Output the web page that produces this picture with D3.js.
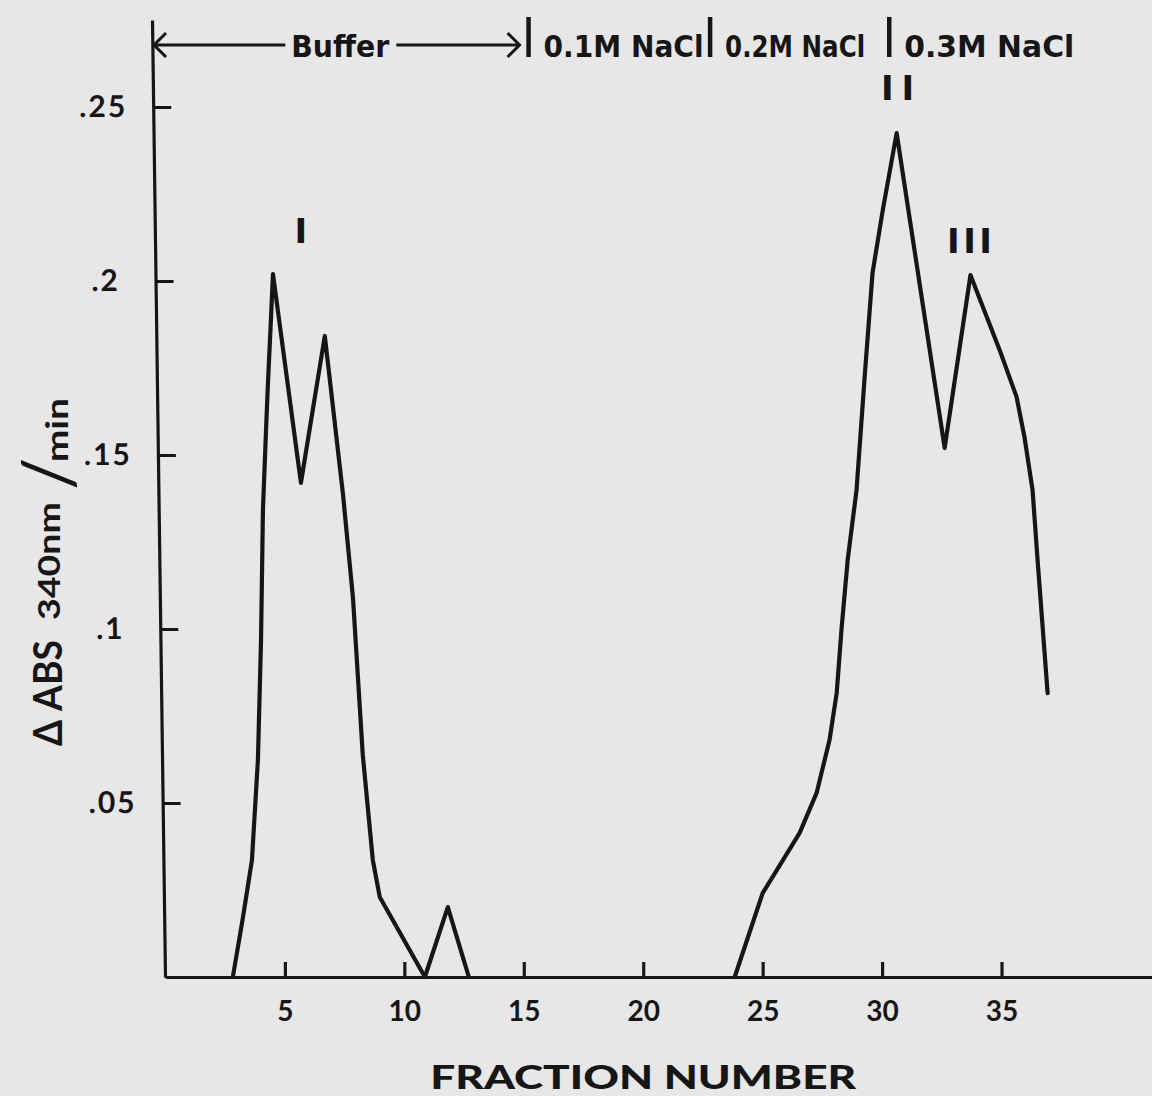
<!DOCTYPE html>
<html lang="en">
<head>
<meta charset="UTF-8">
<title>Delta ABS 340nm/min by fraction number</title>
<script src="https://cdn.jsdelivr.net/npm/d3@7"></script>
<style>
  html, body { margin: 0; padding: 0; background: #e7e7e7; }
  svg { display: block; }
</style>
</head>
<body>
<svg id="chart" width="1152" height="1096"></svg>
<script>
// peak I, eluted with buffer
const fracA = [2.82, 3.24, 3.62, 3.87, 4.00, 4.08, 4.21, 4.29, 4.42, 4.50, 5.67, 6.67, 7.43, 7.85, 8.26, 8.68, 8.97, 10.86, 11.82, 12.70];
const absA  = [0, 0.0170, 0.0336, 0.0624, 0.0968, 0.1342, 0.1572, 0.1707, 0.1897, 0.2020, 0.1420, 0.1842, 0.1388, 0.1089, 0.0638, 0.0336, 0.0230, 0, 0.0201, 0];

// peaks II and III, eluted with NaCl steps
const fracB = [23.83, 25.0, 26.55, 27.26, 27.80, 28.10, 28.31, 28.56, 28.93, 29.27, 29.60, 30.03, 30.61, 32.62, 33.70, 34.92, 35.63, 35.96, 36.30, 36.51, 36.93];
const absB  = [0, 0.0241, 0.0414, 0.0529, 0.0681, 0.0816, 0.1006, 0.1198, 0.1399, 0.1724, 0.2023, 0.2204, 0.2425, 0.1520, 0.2017, 0.1802, 0.1667, 0.1552, 0.1399, 0.1198, 0.0816];

const xTicks = [5, 10, 15, 20, 25, 30, 35];
const yTicks = [0.05, 0.1, 0.15, 0.2, 0.25];
const yTickLabels = [".05", ".1", ".15", ".2", ".25"];

const bufferLabel = "Buffer";
const eluentBreaks = [15.2, 22.8, 30.3];
const eluentLabels = ["0.1M NaCl", "0.2M NaCl", "0.3M NaCl"];

const peakNames = ["I", "II", "III"];
const peakFrac = [5.67, 30.65, 33.66];
const peakAbs = [0.211, 0.252, 0.208];

const width = 1152, height = 1096;
const ink = "#161616";
const tickFont = "Lato, 'Open Sans', sans-serif";
const headFont = "'DejaVu Sans Condensed', 'DejaVu Sans', sans-serif";

const svg = d3.select("#chart");
svg.append("rect").attr("width", width).attr("height", height).attr("fill", "#e7e7e7");

const x = d3.scaleLinear().domain([-0.02, 41.3]).range([165, 1152]);
const y = d3.scaleLinear().domain([0, 0.275]).range([977, 20]);

// the y axis of the original leans a little (scanned drawing)
const lean = 13;
const lean_deg = Math.atan(lean / (y.range()[0] - y.range()[1])) * 180 / Math.PI;
const axisTopX = x.range()[0] - lean;

// axes
const gx = svg.append("g")
    .attr("transform", `translate(0,${y(0)})`)
    .call(d3.axisBottom(x).tickValues(xTicks).tickSize(-15).tickSizeOuter(0).tickPadding(24));

const gy = svg.append("g")
    .attr("transform", `translate(${x.range()[0]},${y(0)}) skewX(${lean_deg}) translate(0,${-y(0)})`)
    .call(d3.axisLeft(y).tickValues(yTicks).tickFormat((d, i) => yTickLabels[i])
        .tickSize(-18).tickSizeOuter(0));

[gx, gy].forEach(g => {
    g.select(".domain").attr("stroke", ink).attr("stroke-width", 3.2);
    g.selectAll(".tick line").attr("stroke", ink).attr("stroke-width", 3.2);
    g.selectAll(".tick text")
        .attr("fill", ink)
        .style("font-family", tickFont)
        .style("font-size", "28px")
        .style("font-weight", "bold");
});
gy.selectAll(".tick text")
    .attr("x", -50)
    .attr("text-anchor", "middle")
    .style("font-size", "30px")
    .style("letter-spacing", "2px");

// data curves
const line = d3.line().x(d => x(d[0])).y(d => y(d[1]));
[d3.zip(fracA, absA), d3.zip(fracB, absB)].forEach(pts => {
    svg.append("path")
        .datum(pts)
        .attr("d", line)
        .attr("fill", "none")
        .attr("stroke", ink)
        .attr("stroke-width", 4.2)
        .attr("stroke-linejoin", "round")
        .attr("stroke-linecap", "round");
});

// eluent header
const headY = 45;
const bufMid = (axisTopX + x(eluentBreaks[0])) / 2;

svg.append("text")
    .attr("x", bufMid).attr("y", 57)
    .attr("text-anchor", "middle")
    .attr("textLength", 98).attr("lengthAdjust", "spacingAndGlyphs")
    .attr("fill", ink)
    .style("font-family", headFont).style("font-weight", "bold").style("font-size", "30px")
    .text(bufferLabel);

svg.append("path")
    .attr("d", `M${axisTopX + 14},${headY - 12}L${axisTopX + 2},${headY}L${axisTopX + 14},${headY + 12}`
        + `M${axisTopX + 2},${headY}H${bufMid - 55}`
        + `M${bufMid + 56},${headY}H${x(eluentBreaks[0]) - 9}`
        + `M${x(eluentBreaks[0]) - 21},${headY - 12}L${x(eluentBreaks[0]) - 9},${headY}L${x(eluentBreaks[0]) - 21},${headY + 12}`)
    .attr("fill", "none")
    .attr("stroke", ink)
    .attr("stroke-width", 3);

svg.selectAll(".brk")
    .data(eluentBreaks)
    .join("line")
    .attr("class", "brk")
    .attr("x1", d => x(d)).attr("x2", d => x(d))
    .attr("y1", 17).attr("y2", 57)
    .attr("stroke", ink)
    .attr("stroke-width", 4.5);

const labelLen = [160, 140, 170];
svg.selectAll(".elu")
    .data(eluentLabels)
    .join("text")
    .attr("class", "elu")
    .attr("x", (d, i) => x(eluentBreaks[i]) + 15)
    .attr("y", 57)
    .attr("textLength", (d, i) => labelLen[i])
    .attr("lengthAdjust", "spacingAndGlyphs")
    .attr("fill", ink)
    .style("font-family", headFont).style("font-weight", "bold").style("font-size", "30px")
    .text(d => d);

// peak labels
const peakSpacing = [0, 8, 3.5];
svg.selectAll(".peak")
    .data(peakNames)
    .join("text")
    .attr("class", "peak")
    .attr("x", (d, i) => x(peakFrac[i]) + peakSpacing[i] / 2)
    .attr("y", (d, i) => y(peakAbs[i]))
    .attr("text-anchor", "middle")
    .attr("fill", ink)
    .style("letter-spacing", (d, i) => peakSpacing[i] + "px")
    .style("font-family", "'DejaVu Sans', sans-serif")
    .style("font-weight", "bold")
    .style("font-size", "34px")
    .text(d => d);

// axis titles
svg.append("text")
    .attr("x", x(20)).attr("y", 1089)
    .attr("text-anchor", "middle")
    .attr("textLength", 426).attr("lengthAdjust", "spacingAndGlyphs")
    .attr("fill", ink)
    .style("font-family", tickFont).style("font-weight", 900).style("font-size", "33px")
    .text("FRACTION NUMBER");

const yTitle = [
    { t: "\u0394 ABS", bx: 62, by: 746, size: 40, len: 106, w: "bold" },
    { t: "340nm", bx: 60, by: 620, size: 30, len: 118, w: "bold" },
    { t: "/", bx: 74, by: 490, size: 72, len: null, w: "normal" },
    { t: "min", bx: 68, by: 462, size: 30, len: 64, w: "bold" }
];
yTitle.forEach(p => {
    const t = svg.append("text")
        .attr("transform", `translate(${p.bx},${p.by}) rotate(-90)`)
        .attr("fill", ink)
        .style("font-family", tickFont).style("font-weight", p.w).style("font-size", p.size + "px")
        .text(p.t);
    if (p.len) t.attr("textLength", p.len).attr("lengthAdjust", "spacingAndGlyphs");
});
</script>
</body>
</html>
